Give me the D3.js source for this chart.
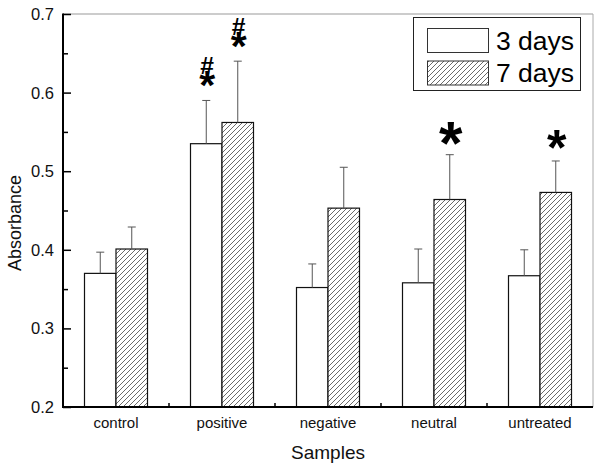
<!DOCTYPE html>
<html><head><meta charset="utf-8">
<script src="https://cdn.jsdelivr.net/npm/d3@7"></script>
<style>
body{margin:0;background:#fff}
svg{display:block;font-family:"Liberation Sans",Arial,sans-serif}
</style>
</head><body>
<svg id="chart" width="601" height="467"></svg>
<script>
// ---- data ----
const categories = ["control", "positive", "negative", "neutral", "untreated"];
const seriesNames = ["3 days", "7 days"];
const values3 = [0.370, 0.535, 0.352, 0.358, 0.367];
const errors3 = [0.027, 0.055, 0.030, 0.043, 0.033];
const values7 = [0.401, 0.562, 0.453, 0.464, 0.473];
const errors7 = [0.028, 0.078, 0.052, 0.057, 0.040];
const yTicks = [0.2, 0.3, 0.4, 0.5, 0.6, 0.7];
const yMinorTicks = [0.25, 0.35, 0.45, 0.55, 0.65];
const annotCategory = ["positive", "positive", "neutral", "untreated"];
const annotSeries = [0, 1, 1, 1];
const annotHash = [true, true, false, false];

(function () {
// ---- layout ----
const pLeft = 63, pRight = 593, pTop = 14, pBottom = 407;
const svg = d3.select("#chart");

const x = d3.scaleBand().domain(categories).range([pLeft, pRight]).paddingInner(0).paddingOuter(0);
const y = d3.scaleLinear().domain([0.2, 0.7]).range([pBottom, pTop]);
const barW = 31.5;

const defs = svg.append("defs");
const pat = defs.append("pattern").attr("id", "hatch").attr("patternUnits", "userSpaceOnUse")
  .attr("width", 5).attr("height", 5);
pat.append("rect").attr("width", 5).attr("height", 5).attr("fill", "#fff");
pat.append("path").attr("d", "M-1,1 L1,-1 M0,5 L5,0 M4,6 L6,4")
  .attr("stroke", "#444").attr("stroke-width", 0.8);

const series = [
  {name: seriesNames[0], values: values3, errors: errors3, fill: "#fff", off: -barW},
  {name: seriesNames[1], values: values7, errors: errors7, fill: "url(#hatch)", off: 0}
];

// frame (top/right gray)
svg.append("line").attr("x1", pLeft).attr("x2", pRight).attr("y1", pTop).attr("y2", pTop)
  .attr("stroke", "#999").attr("stroke-width", 1);
svg.append("line").attr("x1", pRight).attr("x2", pRight).attr("y1", pTop).attr("y2", pBottom)
  .attr("stroke", "#aaa").attr("stroke-width", 1);

// bars
series.forEach((s) => {
  const g = svg.append("g");
  g.selectAll("rect").data(categories).join("rect")
    .attr("x", c => x(c) + x.bandwidth() / 2 + s.off)
    .attr("y", (c, i) => y(s.values[i]))
    .attr("width", barW)
    .attr("height", (c, i) => pBottom - y(s.values[i]))
    .attr("fill", s.fill).attr("stroke", "#111").attr("stroke-width", 1.2);
  const eg = svg.append("g").attr("stroke", "#555").attr("stroke-width", 1);
  categories.forEach((c, i) => {
    const cx = x(c) + x.bandwidth() / 2 + s.off + barW / 2;
    const y0 = y(s.values[i]), y1 = y(s.values[i] + s.errors[i]);
    eg.append("line").attr("x1", cx).attr("x2", cx).attr("y1", y0).attr("y2", y1);
    eg.append("line").attr("x1", cx - 4).attr("x2", cx + 4).attr("y1", y1).attr("y2", y1);
  });
});

// axes
const yAxis = d3.axisRight(y).tickValues(yTicks).tickSize(8).tickFormat("");
const gy = svg.append("g").attr("transform", `translate(${pLeft},0)`).call(yAxis);
gy.select(".domain").remove();
gy.selectAll(".tick line").attr("stroke", "#000").attr("stroke-width", 1.5);
const yMinor = d3.axisRight(y).tickValues(yMinorTicks).tickSize(5).tickFormat("");
const gym = svg.append("g").attr("transform", `translate(${pLeft},0)`).call(yMinor);
gym.select(".domain").remove();
gym.selectAll(".tick line").attr("stroke", "#000").attr("stroke-width", 1.5);

svg.append("g").selectAll("text").data(yTicks).join("text")
  .attr("x", 54).attr("y", d => y(d) + 6)
  .attr("text-anchor", "end").attr("font-size", 16.5).attr("fill", "#111")
  .text(d => d3.format(".1f")(d));

// x category boundary ticks
const bounds = categories.slice(1).map(c => x(c));
svg.append("g").selectAll("line").data(bounds).join("line")
  .attr("x1", d => d).attr("x2", d => d).attr("y1", pBottom).attr("y2", pBottom - 4)
  .attr("stroke", "#000").attr("stroke-width", 1.5);

const xAxis = d3.axisBottom(x).tickSize(0).tickPadding(0);
const gx = svg.append("g").attr("transform", `translate(0,${pBottom})`).call(xAxis);
gx.select(".domain").remove();
gx.selectAll(".tick text").attr("font-size", 15).attr("fill", "#111")
  .attr("font-family", '"Liberation Sans",Arial,sans-serif').attr("dy", 0).attr("y", 21);

// axis lines
svg.append("line").attr("x1", pLeft).attr("x2", pLeft).attr("y1", pTop - 0.5).attr("y2", pBottom + 1)
  .attr("stroke", "#000").attr("stroke-width", 2);
svg.append("line").attr("x1", pLeft - 1).attr("x2", pRight).attr("y1", pBottom).attr("y2", pBottom)
  .attr("stroke", "#000").attr("stroke-width", 2);

// axis titles
svg.append("text").attr("x", (pLeft + pRight) / 2).attr("y", 459).attr("text-anchor", "middle")
  .attr("font-size", 19).attr("fill", "#111").text("Samples");
svg.append("text").attr("transform", "translate(21,223) rotate(-90)").attr("text-anchor", "middle")
  .attr("font-size", 18).attr("fill", "#111").text("Absorbance");

// legend
const lg = svg.append("g");
lg.append("rect").attr("x", 413.5).attr("y", 17.5).attr("width", 167).attr("height", 73)
  .attr("fill", "#fff").attr("stroke", "#222").attr("stroke-width", 1);
series.forEach((s, i) => {
  const yy = 28.5 + i * 32.5;
  lg.append("rect").attr("x", 427.5).attr("y", yy).attr("width", 61).attr("height", 24)
    .attr("fill", s.fill).attr("stroke", "#333").attr("stroke-width", 1);
  lg.append("text").attr("x", 496).attr("y", yy + 21).attr("font-size", 26.5).attr("fill", "#000")
    .text(s.name);
});

// annotations
const cv = document.createElement("canvas").getContext("2d");
function ink(ch, weight) {
  cv.font = `${weight} 100px "Liberation Sans"`;
  const m = cv.measureText(ch);
  return {w: (m.actualBoundingBoxRight + m.actualBoundingBoxLeft) / 100,
          asc: m.actualBoundingBoxAscent / 100, desc: m.actualBoundingBoxDescent / 100,
          cx: (m.actualBoundingBoxRight - m.actualBoundingBoxLeft) / 2 / 100};
}
const starInk = ink("*", "bold"), hashInk = ink("#", "normal");
const starWidths = {positive: 16, neutral: 23.5, untreated: 19.5};
const ag = svg.append("g");
annotCategory.forEach((c, k) => {
  const si = annotSeries[k];
  const i = categories.indexOf(c);
  const s = series[si];
  const cx = x(c) + x.bandwidth() / 2 + s.off + barW / 2 + 1;
  const errTop = y(s.values[i] + s.errors[i]);
  const starCy = errTop - (annotHash[k] ? 22 : 21);
  const fs = starWidths[c] / starInk.w;
  const base = starCy + (starInk.asc - starInk.desc) / 2 * fs;
  const t = ag.append("text").attr("fill", "#000");
  if (annotHash[k]) {
    const hfs = 17 / (hashInk.asc + hashInk.desc);
    const hcy = starCy - 12.5;
    const hb = hcy + (hashInk.asc - hashInk.desc) / 2 * hfs;
    t.append("tspan").attr("x", cx - hashInk.cx * hfs).attr("y", hb)
      .attr("font-size", hfs).attr("font-weight", 600).text("#");
  }
  t.append("tspan").attr("x", cx - starInk.cx * fs).attr("y", base)
    .attr("font-size", fs).attr("font-weight", "bold").text("*");
});
})();
</script>
</body></html>
